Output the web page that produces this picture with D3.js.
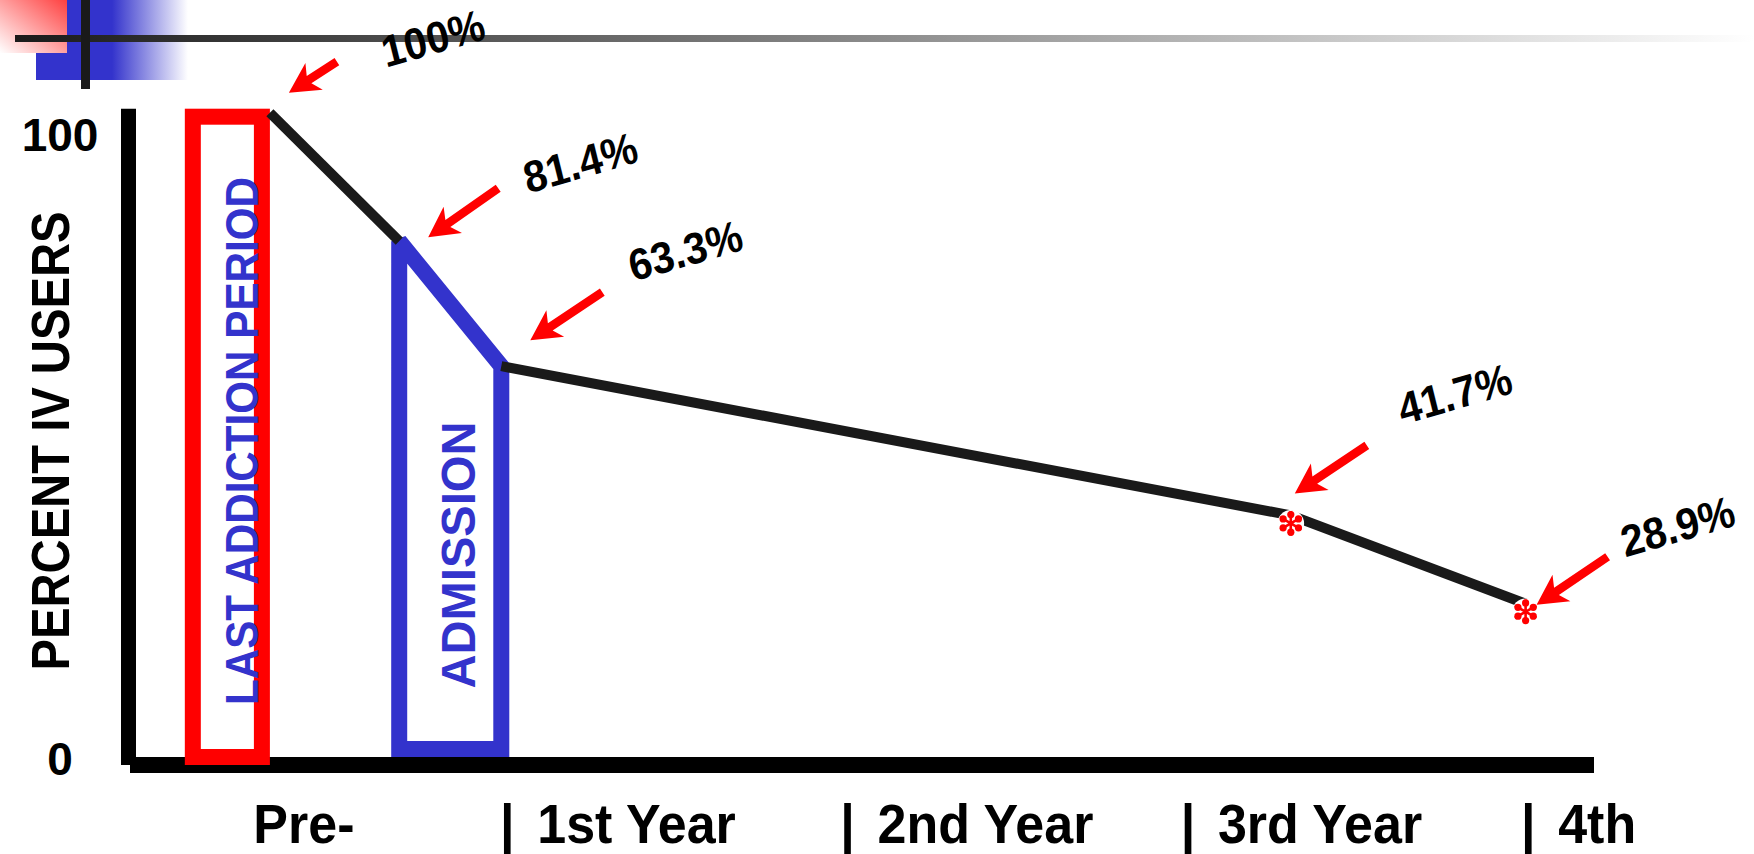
<!DOCTYPE html>
<html><head><meta charset="utf-8">
<script src="https://cdn.jsdelivr.net/npm/d3@7"></script>
<style>
html,body{margin:0;padding:0;background:#fff;}
svg{display:block;font-family:"Liberation Sans",Arial,Helvetica,sans-serif;font-weight:bold;}
</style></head><body>
<svg id="chart" width="1754" height="854"></svg>
<script>
// ---------------- data ----------------
const pointLabels   = ["100%", "81.4%", "63.3%", "41.7%", "28.9%"];
const pointValues   = [100, 81.4, 63.3, 41.7, 28.9];
const pointTimes    = [-0.68, -0.30, 0, 2.32, 3.01];   // years from start of follow-up
const starredPoints = [false, false, false, true, true];
const blackRuns     = [[0, 1], [2, 3, 4]];             // point indices joined by the black line

const periodNames   = ["LAST ADDICTION PERIOD", "ADMISSION"];
const periodStart   = [-0.93, -0.30];
const periodEnd     = [-0.68, 0];

const xTickValues   = [0, 1, 2, 3];
const xTickLabels   = ["1st Year", "2nd Year", "3rd Year", "4th"];
const preLabel      = "Pre-";
const preLabelTime  = -0.58;

const yTickValues   = [0, 100];
const yTitle        = "PERCENT IV USERS";

// ---------------- layout / style ----------------
const W = 1754, H = 854;
const axisY = 765, axisLeftX = 128.5, xAxisFrom = 130, xAxisTo = 1594;
const RED = "#ff0000", BLUE = "#3333cc", INK = "#1a1a1a";
const annotOffsets = [
  {tip: [19, -20], tail: [67, -51],  label: [163, -75]},
  {tip: [29, -4],  tail: [99, -53],  label: [181, -79]},
  {tip: [29, -26], tail: [101, -74], label: [184, -116]},
  {tip: [4, -22],  tail: [76, -70],  label: [164, -122]},
  {tip: [11, 1],   tail: [82, -47],  label: [152, -78]}
];
const periodStyle = [
  {color: RED,  textColor: BLUE, dx: 14, rise: 324, font: 46, len: 528},
  {color: BLUE, textColor: BLUE, dx: 7,  rise: 210, font: 48, len: 267}
];

const svg = d3.select("#chart");
const defs = svg.append("defs");

// ---------------- scales ----------------
const x = d3.scaleLinear().domain([-1, 3.5]).range([161, 1692.35]);
const y = d3.scaleLinear().domain([0, 100]).range([803.4, 112.7]);
const yLabelScale = d3.scaleLinear().domain([0, 100]).range([758, 134]);

// ---------------- template decoration ----------------
const gBlue = defs.append("linearGradient").attr("id", "gBlue")
  .attr("x1", 36).attr("x2", 188).attr("y1", 0).attr("y2", 0).attr("gradientUnits", "userSpaceOnUse");
gBlue.append("stop").attr("offset", 0).attr("stop-color", BLUE);
gBlue.append("stop").attr("offset", 0.5).attr("stop-color", BLUE);
gBlue.append("stop").attr("offset", 1).attr("stop-color", BLUE).attr("stop-opacity", 0);
const gPink = defs.append("linearGradient").attr("id", "gPink")
  .attr("x1", 1).attr("y1", 0).attr("x2", 0).attr("y2", 1);
gPink.append("stop").attr("offset", 0).attr("stop-color", "#ff4040");
gPink.append("stop").attr("offset", 1).attr("stop-color", "#ffffff");
const gRule = defs.append("linearGradient").attr("id", "gRule")
  .attr("x1", 15).attr("x2", W).attr("y1", 0).attr("y2", 0).attr("gradientUnits", "userSpaceOnUse");
gRule.append("stop").attr("offset", 0).attr("stop-color", "#1a1a1a");
gRule.append("stop").attr("offset", 1).attr("stop-color", "#ffffff");

const deco = svg.append("g");
deco.append("rect").attr("x", 36).attr("y", 0).attr("width", 152).attr("height", 80).attr("fill", "url(#gBlue)");
deco.append("rect").attr("x", 0).attr("y", 0).attr("width", 67).attr("height", 53).attr("fill", "url(#gPink)");
deco.append("rect").attr("x", 15).attr("y", 35).attr("width", W - 15).attr("height", 7).attr("fill", "url(#gRule)");
deco.append("rect").attr("x", 81).attr("y", 0).attr("width", 9).attr("height", 89).attr("fill", "#1a1a1a");

// ---------------- axes ----------------
svg.append("line").attr("x1", axisLeftX).attr("x2", axisLeftX)
  .attr("y1", y(100) - 4).attr("y2", axisY)
  .attr("stroke", "#000").attr("stroke-width", 15);

const yAxis = svg.append("g").attr("transform", "translate(60,0)")
  .call(d3.axisLeft(yLabelScale).tickValues(yTickValues).tickSize(0).tickPadding(0));
yAxis.select(".domain").remove();
yAxis.selectAll("text").attr("x", 0).attr("text-anchor", "middle")
  .attr("font-size", 46).attr("font-family", "'Liberation Sans',Arial,sans-serif")
  .attr("font-weight", "bold").attr("fill", "#000").attr("dy", "0.36em");

svg.append("text").attr("transform", "translate(50,441) rotate(-90)")
  .attr("text-anchor", "middle").attr("dy", "0.36em").attr("font-size", 54)
  .attr("textLength", 459).attr("lengthAdjust", "spacingAndGlyphs")
  .attr("fill", "#000").text(yTitle);

// ---------------- periods ----------------
{
  const st = periodStyle[0];
  const x0 = x(periodStart[0]), x1 = x(periodEnd[0]);
  svg.append("rect").attr("x", x0 + 8).attr("y", y(pointValues[0]) + 4)
    .attr("width", x1 - x0 - 16).attr("height", (axisY - 8) - (y(pointValues[0]) + 4))
    .attr("fill", "none").attr("stroke", st.color).attr("stroke-width", 16);
}
{
  const st = periodStyle[1];
  const i0 = pointTimes.indexOf(periodStart[1]), i1 = pointTimes.indexOf(periodEnd[1]);
  const bottom = axisY - 16;
  const pts = [[x(pointTimes[i0]), y(pointValues[i0])], [x(pointTimes[i1]), y(pointValues[i1])],
               [x(pointTimes[i1]), bottom], [x(pointTimes[i0]), bottom]];
  svg.append("path").attr("d", d3.line()(pts) + "Z")
    .attr("fill", "none").attr("stroke", st.color).attr("stroke-width", 16)
    .attr("stroke-linejoin", "miter").attr("stroke-miterlimit", 1.6);
}

periodNames.forEach((name, i) => {
  const st = periodStyle[i];
  const cx = (x(periodStart[i]) + x(periodEnd[i])) / 2 + st.dx;
  const cy = axisY - st.rise;
  svg.append("text").attr("transform", `translate(${cx},${cy}) rotate(-90)`)
    .attr("text-anchor", "middle").attr("dy", "0.36em").attr("font-size", st.font)
    .attr("textLength", st.len).attr("lengthAdjust", "spacingAndGlyphs")
    .attr("fill", st.textColor).text(name);
});

// x axis line beneath the period boxes
svg.insert("rect", ":first-child").attr("x", xAxisFrom).attr("y", axisY - 8)
  .attr("width", xAxisTo - xAxisFrom).attr("height", 16).attr("fill", "#000");
svg.select("defs").lower();

// ---------------- data line ----------------
const lineGen = d3.line().x(i => x(pointTimes[i])).y(i => y(pointValues[i]));
blackRuns.forEach(run => {
  svg.append("path").attr("d", lineGen(run)).attr("fill", "none")
    .attr("stroke", INK).attr("stroke-width", 10).attr("stroke-linejoin", "miter");
});

// asterisks
const starSize = 430;
const starR = Math.sqrt(starSize + Math.min(starSize / 28, 0.75)) * 0.59436;
pointValues.forEach((v, i) => {
  if (!starredPoints[i]) return;
  const g = svg.append("g").attr("transform", `translate(${x(pointTimes[i])},${y(v) + 8})`);
  g.append("circle").attr("r", starR + 1).attr("fill", "#fff");
  g.append("path").attr("d", d3.symbol(d3.symbolAsterisk, starSize)())
    .attr("stroke", RED).attr("stroke-width", 2.6).attr("fill", "none");
  d3.range(6).forEach(k => {
    const a = Math.PI / 2 + k * Math.PI / 3;
    g.append("circle").attr("cx", Math.cos(a) * (starR - 3.5)).attr("cy", Math.sin(a) * (starR - 3.5))
      .attr("r", 3.6).attr("fill", RED);
  });
});

// ---------------- annotations ----------------
function arrowPath(tip, tail) {
  const dx = tail[0] - tip[0], dy = tail[1] - tip[1];
  const L = Math.hypot(dx, dy), ux = dx / L, uy = dy / L, nx = -uy, ny = ux;
  const Hh = 30, Wh = 16, s = 4.3, notch = 24;
  const p = (a, b) => [tip[0] + ux * a + nx * b, tip[1] + uy * a + ny * b];
  return d3.line()([tip, p(Hh, Wh), p(notch, s), p(L, s), p(L, -s), p(notch, -s), p(Hh, -Wh)]) + "Z";
}
pointValues.forEach((v, i) => {
  const px = x(pointTimes[i]), py = y(v), o = annotOffsets[i];
  const tip = [px + o.tip[0], py + o.tip[1]];
  const tail = [px + o.tail[0], py + o.tail[1]];
  svg.append("path").attr("d", arrowPath(tip, tail)).attr("fill", RED);
  const lx = px + o.label[0], ly = py + o.label[1];
  svg.append("text").attr("dy", "0.36em")
    .attr("transform", `translate(${lx},${ly}) scale(1,1.08) rotate(-15)`)
    .attr("text-anchor", "middle").attr("font-size", 41).attr("fill", "#000")
    .text(pointLabels[i]);
});

// ---------------- x labels ----------------
const xl = svg.append("g").attr("font-size", 52).attr("fill", "#000");
xl.append("g").attr("transform", `translate(${x(preLabelTime)},843) scale(1,1.08)`)
  .append("text").attr("text-anchor", "middle").text(preLabel);
xTickValues.forEach((t, i) => {
  const g = xl.append("g").attr("transform", `translate(${x(t)},843) scale(1,1.08)`);
  g.append("text").attr("x", 6).attr("text-anchor", "middle").text("|");
  g.append("text").attr("x", 36).attr("text-anchor", "start").text(xTickLabels[i]);
});
</script>
</body></html>
